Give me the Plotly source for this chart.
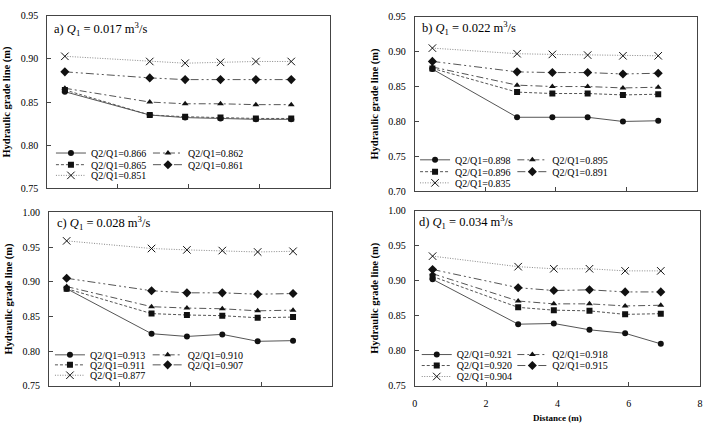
import plotly.graph_objects as go

W, H = 705, 424

# ---------------- data ----------------
distance = [0.5, 2.9, 3.9, 4.9, 5.9, 6.9]

panel_letters = ["a)", "b)", "c)", "d)"]
q1_values = ["0.017", "0.022", "0.028", "0.034"]

# series order in each panel: circle, triangle, square, diamond, cross
ratios_a = ["0.866", "0.862", "0.865", "0.861", "0.851"]
a_circle = [0.862, 0.835, 0.832, 0.831, 0.830, 0.830]
a_triangle = [0.866, 0.850, 0.848, 0.848, 0.847, 0.847]
a_square = [0.864, 0.835, 0.833, 0.832, 0.831, 0.831]
a_diamond = [0.885, 0.878, 0.876, 0.876, 0.876, 0.876]
a_cross = [0.903, 0.897, 0.895, 0.896, 0.897, 0.897]

ratios_b = ["0.898", "0.895", "0.896", "0.891", "0.835"]
b_circle = [0.875, 0.806, 0.806, 0.806, 0.800, 0.801]
b_triangle = [0.878, 0.852, 0.850, 0.850, 0.848, 0.849]
b_square = [0.876, 0.842, 0.840, 0.840, 0.838, 0.839]
b_diamond = [0.886, 0.871, 0.870, 0.870, 0.868, 0.869]
b_cross = [0.905, 0.897, 0.896, 0.895, 0.894, 0.894]

ratios_c = ["0.913", "0.910", "0.911", "0.907", "0.877"]
c_circle = [0.890, 0.825, 0.821, 0.824, 0.814, 0.815]
c_triangle = [0.893, 0.864, 0.862, 0.861, 0.858, 0.859]
c_square = [0.890, 0.854, 0.852, 0.851, 0.848, 0.849]
c_diamond = [0.905, 0.887, 0.884, 0.884, 0.882, 0.883]
c_cross = [0.959, 0.948, 0.946, 0.945, 0.943, 0.944]

ratios_d = ["0.921", "0.918", "0.920", "0.915", "0.904"]
d_circle = [0.902, 0.838, 0.839, 0.830, 0.825, 0.810]
d_triangle = [0.910, 0.871, 0.867, 0.867, 0.864, 0.865]
d_square = [0.906, 0.862, 0.858, 0.857, 0.852, 0.853]
d_diamond = [0.916, 0.890, 0.886, 0.887, 0.884, 0.884]
d_cross = [0.935, 0.920, 0.917, 0.917, 0.914, 0.914]

y_ranges = [[0.75, 0.95], [0.70, 0.95], [0.75, 1.00], [0.75, 1.00]]
x_range = [0, 8]

panels = [
    (ratios_a, [a_circle, a_triangle, a_square, a_diamond, a_cross]),
    (ratios_b, [b_circle, b_triangle, b_square, b_diamond, b_cross]),
    (ratios_c, [c_circle, c_triangle, c_square, c_diamond, c_cross]),
    (ratios_d, [d_circle, d_triangle, d_square, d_diamond, d_cross]),
]

# ---------------- layout geometry (pixels) ----------------
boxes = [  # left, right, top, bottom
    (45.5, 330.5, 10.0, 187.7),
    (415.7, 700.0, 11.0, 190.7),
    (47.3, 332.3, 212.5, 390.7),
    (415.7, 703.0, 210.5, 391.0),
]
legend_cols = [(89.3, 187.0), (456.0, 554.0), (88.3, 186.7), (457.7, 554.0)]
legend_rows = [(151.3, 163.3, 174.3), (158.3, 170.5, 182.0),
               (359.0, 369.3, 380.0), (358.7, 370.0, 381.3)]
title_pos = [(50.7, 24.0), (421.0, 23.0), (53.0, 223.0), (418.0, 222.0)]
# slot (col,row) of each series in the legend
slots = [(0, 0), (1, 0), (0, 1), (1, 1), (0, 2)]

FONT = "Liberation Serif, Times New Roman, serif"
LINE = "#555555"
MK = "#111111"
styles = [
    dict(dash="solid", symbol="circle", size=6),
    dict(dash="7px,3px,2px,3px", symbol="triangle-up", size=6),
    dict(dash="3px,2px", symbol="square", size=6),
    dict(dash="8px,3px,2px,3px,2px,3px", symbol="diamond", size=7),
    dict(dash="1px,1.5px", symbol="x-thin-open", size=7.5),
]

fig = go.Figure()
layout = dict(
    width=W, height=H,
    margin=dict(l=0, r=0, t=0, b=0),
    paper_bgcolor="white", plot_bgcolor="white",
    font=dict(family=FONT, size=10, color="black"),
    showlegend=True,
    annotations=[],
)

leg_n = 0
for p, (ratios, series) in enumerate(panels):
    l, r, t, b = boxes[p]
    xn = "xaxis" if p == 0 else f"xaxis{p+1}"
    yn = "yaxis" if p == 0 else f"yaxis{p+1}"
    xr = "x" if p == 0 else f"x{p+1}"
    yr = "y" if p == 0 else f"y{p+1}"
    last = p == 3
    xa = dict(
        domain=[l / W, r / W], anchor=yr, range=x_range, dtick=2,
        ticks="inside", ticklen=4, tickcolor="#444",
        showline=True, mirror=True, linecolor="#444", linewidth=1,
        showgrid=False, zeroline=False, showticklabels=last,
        tickfont=dict(size=10), ticklabelstandoff=8,
        ticklabeloverflow="allow",
    )
    if last:
        xa["title"] = dict(text="<b>Distance (m)</b>", font=dict(size=9), standoff=6)
    layout[xn] = xa
    layout[yn] = dict(
        domain=[1 - b / H, 1 - t / H], anchor=xr, range=y_ranges[p], dtick=0.05,
        tickformat=".2f", ticks="inside", ticklen=4, tickcolor="#444",
        showline=True, mirror=True, linecolor="#444", linewidth=1,
        showgrid=False, zeroline=False, ticklabelstandoff=6,
        tickfont=dict(size=10),
        title=dict(text="<b>Hydraulic grade line (m)</b>", font=dict(size=10.5), standoff=7),
    )
    tx, ty = title_pos[p]
    layout["annotations"].append(dict(
        text=f"{panel_letters[p]} <i>Q</i><sub>1</sub> = {q1_values[p]} m<sup>3</sup>/s",
        xref="paper", yref="paper", x=tx / W, y=1 - ty / H,
        xanchor="left", yanchor="middle", showarrow=False,
        font=dict(size=12.5, family=FONT),
    ))
    for s, (ratio, vals) in enumerate(zip(ratios, series)):
        leg_n += 1
        lname = "legend" if leg_n == 1 else f"legend{leg_n}"
        st = styles[s]
        cx, ry = slots[s]
        layout[lname] = dict(
            x=(legend_cols[p][cx] - 40) / W, y=1 - legend_rows[p][ry] / H,
            xanchor="left", yanchor="middle", bgcolor="rgba(0,0,0,0)",
            borderwidth=0, font=dict(size=10, family=FONT),
            visible=True,
        )
        is_x = st["symbol"].startswith("x")
        fig.add_trace(go.Scatter(
            x=distance, y=vals, xaxis=xr, yaxis=yr,
            name=f"Q2/Q1={ratio}", legend=lname, showlegend=True,
            mode="lines+markers",
            line=dict(color="#888888" if is_x else LINE, width=1, dash=st["dash"]),
            marker=dict(symbol=st["symbol"], size=st["size"], color=MK,
                        line=dict(color="#333333", width=1) if is_x else dict(width=0)),
        ))

fig.update_layout(**layout)
fig.write_html("out.html")
